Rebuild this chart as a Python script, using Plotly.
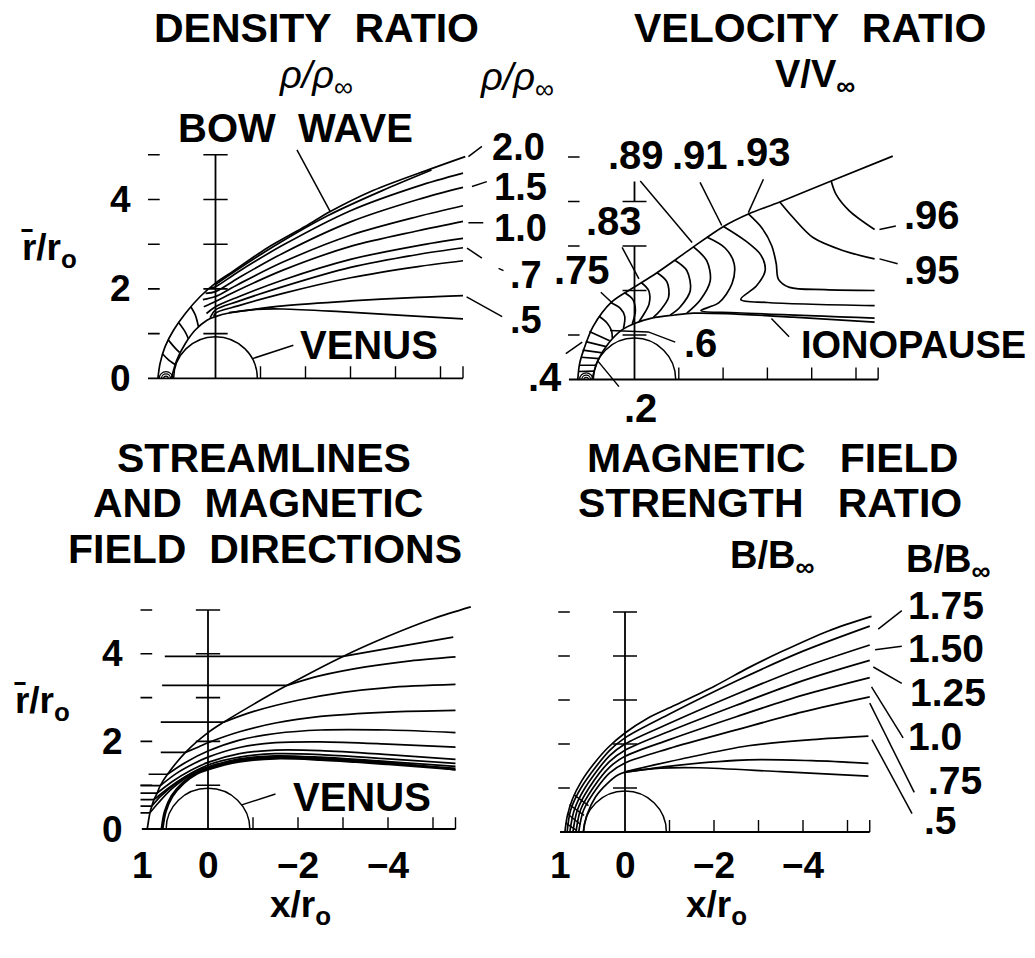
import plotly.graph_objects as go

W, H = 1035, 958
FONT = "Liberation Sans"

# ---------------- panel frames (pixel of x=0, pixel of y=0, px per unit) --------------
FRAMES = {
    1: dict(x0=215.5, y0=378.3, sx=45.0, sy=44.7),
    2: dict(x0=634.5, y0=379.5, sx=44.3, sy=44.5),
    3: dict(x0=208.0, y0=829.0, sx=45.0, sy=43.8),
    4: dict(x0=625.0, y0=832.0, sx=44.5, sy=44.0),
}
X_RANGE = [1.7, -7.6]
Y_RANGE = [-0.95, 5.6]

# ---------------- axis tick values ----------------
Y_TICKS = [1, 2, 3, 4, 5]
X_TICKS = [-1, -2, -3, -4, -5, -5.5]
Y_TICK_LABELS = [0, 2, 4]
X_TICK_LABELS = [0, -2, -4]
VENUS_RADIUS = 0.93

# ---------------- panel 1 : density ratio ----------------
P1_BOW = [(1.28, 0), (1.23, 0.34), (1.12, 0.71), (0.93, 1.08), (0.67, 1.45), (0.34, 1.83), (0, 2.13),
          (-0.4, 2.4), (-1.14, 2.91), (-2.0, 3.4), (-2.55, 3.73), (-3.5, 4.2), (-4.77, 4.68), (-5.55, 4.96)]
P1_IONOPAUSE = [(0.98, 0), (0.86, 0.41), (0.67, 0.78), (0.45, 1.08), (0.19, 1.30), (0, 1.38), (-0.3, 1.46),
                (-0.9, 1.54), (-1.5, 1.55), (-2.77, 1.49), (-4.25, 1.40), (-5.5, 1.33)]
P1_RHO_2_0 = [(0, 2.1), (-1.1, 2.83), (-2.5, 3.64), (-3.8, 4.24), (-4.8, 4.66)]
P1_RHO_A = [(0.12, 2.02), (0, 2.05), (-0.5, 2.38), (-1.5, 2.98), (-3, 3.75), (-4.5, 4.3), (-5.5, 4.59)]
P1_RHO_1_5 = [(0.22, 1.9), (0, 1.94), (-0.5, 2.24), (-1.5, 2.8), (-3, 3.5), (-4.5, 4.0), (-5.5, 4.27)]
P1_RHO_B = [(0.28, 1.76), (0, 1.83), (-0.5, 2.1), (-1.5, 2.6), (-3, 3.2), (-4.5, 3.62), (-5.5, 3.86)]
P1_RHO_1_0 = [(0.26, 1.6), (0, 1.72), (-0.5, 1.97), (-1.5, 2.42), (-3, 2.95), (-4.5, 3.3), (-5.5, 3.51)]
P1_RHO_C = [(0.2, 1.45), (0, 1.6), (-0.5, 1.82), (-1.5, 2.2), (-3, 2.66), (-4.5, 2.97), (-5.5, 3.13)]
P1_RHO_0_7 = [(0.12, 1.36), (0, 1.53), (-0.5, 1.72), (-1.5, 2.05), (-3, 2.48), (-4.5, 2.77), (-5.5, 2.92)]
P1_RHO_D = [(0.04, 1.38), (0, 1.46), (-0.5, 1.62), (-1.5, 1.9), (-3, 2.25), (-4.5, 2.5), (-5.5, 2.63)]
P1_RHO_0_5 = [(-0.3, 1.47), (-1.5, 1.62), (-3, 1.73), (-4.5, 1.81), (-5.5, 1.85)]
P1_NOSE_1 = [(0.55, 1.6), (0.45, 1.42), (0.38, 1.16)]
P1_NOSE_2 = [(0.82, 1.25), (0.68, 1.05), (0.6, 0.88)]
P1_NOSE_3 = [(1.05, 0.86), (0.9, 0.68), (0.8, 0.58)]
P1_NOSE_4 = [(1.18, 0.55), (1.05, 0.42), (0.9, 0.31)]
P1_LOOP_CENTER = 1.1
P1_LOOP_RADII = [0.05, 0.1, 0.15]
P1_LEAD_BOW = [(-1.81, 5.11), (-2.55, 3.73)]
P1_LEAD_VENUS = [(-0.82, 0.44), (-1.73, 0.74)]
P1_LEAD_20 = [(-5.62, 4.96), (-5.92, 5.19)]
P1_LEAD_15 = [(-5.7, 4.29), (-6.03, 4.40)]
P1_LEAD_10 = [(-5.62, 3.48), (-5.95, 3.48)]
P1_LEAD_07A = [(-5.59, 2.91), (-5.92, 2.69)]
P1_LEAD_07B = [(-6.29, 2.46), (-6.4, 2.41)]
P1_LEAD_05 = [(-5.58, 1.82), (-6.37, 1.38)]

# ---------------- panel 2 : velocity ratio ----------------
P2_BOW = [(1.28, 0), (1.24, 0.35), (1.15, 0.66), (0.93, 1.2), (0.52, 1.74), (0, 2.08), (-0.45, 2.36),
          (-0.91, 2.68), (-1.33, 2.98), (-2.01, 3.44), (-2.57, 3.72), (-3.28, 3.99), (-4.44, 4.46), (-5.83, 5.02)]
P2_IONOPAUSE = [(0.96, 0), (0.82, 0.44), (0.59, 0.81), (0.29, 1.11), (0, 1.26), (-0.39, 1.38), (-0.91, 1.45),
                (-1.33, 1.49), (-2.08, 1.48), (-3.58, 1.40), (-5.42, 1.29)]
P2_V96 = [(-4.44, 4.46), (-4.55, 4.16), (-4.85, 3.79), (-5.42, 3.37)]
P2_V95 = [(-3.28, 3.99), (-3.58, 3.64), (-4.03, 3.19), (-4.7, 2.9), (-5.42, 2.71)]
P2_V93 = [(-2.57, 3.72), (-2.88, 3.4), (-3.1, 3.0), (-3.2, 2.6), (-3.25, 2.25), (-3.5, 2.07), (-4.3, 2.02), (-5.42, 2.0)]
P2_V91 = [(-2.01, 3.44), (-2.5, 3.12), (-2.85, 2.8), (-2.95, 2.45), (-2.75, 2.1), (-2.4, 1.8), (-3.0, 1.73), (-5.42, 1.66)]
P2_V90 = [(-1.63, 3.2), (-2.05, 2.95), (-2.25, 2.6), (-2.2, 2.15), (-1.9, 1.72), (-1.5, 1.55), (-2.3, 1.5), (-5.42, 1.38)]
P2_V89 = [(-1.33, 2.98), (-1.63, 2.67), (-1.71, 2.22), (-1.48, 1.78), (-1.18, 1.49)]
P2_V87 = [(-0.91, 2.68), (-1.18, 2.45), (-1.26, 2.0), (-1.03, 1.63), (-0.81, 1.45)]
P2_V85 = [(-0.51, 2.4), (-0.73, 2.2), (-0.77, 1.85), (-0.58, 1.55), (-0.43, 1.4)]
P2_V83 = [(-0.15, 2.18), (-0.32, 2.0), (-0.33, 1.7), (-0.2, 1.45), (-0.1, 1.3)]
P2_V80 = [(0.22, 1.95), (0.04, 1.8), (-0.02, 1.55), (0.05, 1.25)]
P2_V75 = [(0.54, 1.73), (0.32, 1.6), (0.22, 1.42), (0.25, 1.14)]
P2_V70 = [(0.8, 1.42), (0.62, 1.27), (0.52, 1.1), (0.5, 0.93)]
P2_V65 = [(1.02, 1.08), (0.56, 0.87)]
P2_V60 = [(1.1, 0.85), (0.64, 0.74)]
P2_V55 = [(1.17, 0.66), (0.72, 0.6)]
P2_V50 = [(1.21, 0.5), (0.79, 0.47)]
P2_V40 = [(1.25, 0.32), (0.86, 0.32)]
P2_V30 = [(1.27, 0.18), (0.91, 0.19)]
P2_LOOP_CENTER = 1.09
P2_LOOP_RADII = [0.05, 0.1, 0.15]
P2_LEAD_89 = [(-0.13, 4.46), (-1.3, 3.08)]
P2_LEAD_91 = [(-1.48, 4.43), (-1.97, 3.46)]
P2_LEAD_93 = [(-2.91, 4.5), (-2.57, 3.75)]
P2_LEAD_83 = [(0.28, 2.97), (-0.1, 2.26)]
P2_LEAD_75 = [(0.76, 1.96), (0.5, 1.72)]
P2_LEAD_6 = [(-0.92, 0.84), (-0.31, 1.07), (0.55, 1.1)]
P2_LEAD_4 = [(1.55, 0.58), (1.18, 0.84)]
P2_LEAD_2 = [(0.84, 0.43), (0.35, -0.16)]
P2_LEAD_96 = [(-5.53, 3.37), (-5.9, 3.45)]
P2_LEAD_95 = [(-5.53, 2.71), (-5.94, 2.6)]
P2_LEAD_IONO = [(-3.09, 1.37), (-3.49, 0.96)]

# ---------------- panel 3 : streamlines ----------------
P3_BOW = [(1.35, 0), (1.32, 0.2), (1.29, 0.37), (1.25, 0.52), (1.2, 0.67), (1.13, 0.82), (1.06, 0.99), (0.9, 1.25),
          (0.5, 1.75), (0, 2.2), (-0.35, 2.44), (-1.0, 2.84), (-1.76, 3.28), (-3.0, 3.94), (-4.0, 4.4), (-5.0, 4.8), (-5.84, 5.07)]
P3_UP_Y = [3.94, 3.28, 2.44, 1.75, 1.25, 0.99, 0.82, 0.67, 0.52, 0.37]
P3_UP_X_START = [0.96, 1.02, 1.05, 1.05, 1.32, 1.5, 1.5, 1.5, 1.5, 1.5]
P3_UP_X_END = [-3.0, -1.76, -0.35, 0.5, 0.9, 1.06, 1.13, 1.2, 1.25, 1.29]
P3_DOWN_1 = [(-3.0, 3.94), (-4.2, 4.16), (-5.45, 4.38)]
P3_DOWN_2 = [(-1.76, 3.28), (-2.5, 3.5), (-3.5, 3.7), (-4.5, 3.84), (-5.5, 3.93)]
P3_DOWN_3 = [(-0.35, 2.44), (-1, 2.68), (-2, 2.94), (-3, 3.12), (-4, 3.23), (-5.5, 3.3)]
P3_DOWN_4 = [(0.5, 1.75), (0.2, 1.88), (0, 1.97), (-0.7, 2.22), (-1.5, 2.42), (-2.5, 2.57), (-4, 2.67), (-5.5, 2.71)]
P3_DOWN_5 = [(0.9, 1.25), (0.5, 1.52), (0, 1.78), (-0.7, 2.03), (-1.5, 2.18), (-2.5, 2.26), (-4, 2.26), (-5.5, 2.2)]
P3_DOWN_6 = [(1.06, 0.99), (0.7, 1.27), (0.3, 1.5), (0, 1.64), (-0.7, 1.86), (-1.5, 1.97), (-2.5, 1.99), (-4, 1.94), (-5.5, 1.87)]
P3_DOWN_7 = [(1.13, 0.82), (0.8, 1.08), (0.4, 1.33), (0, 1.52), (-0.7, 1.72), (-1.5, 1.8), (-2.5, 1.79), (-4, 1.7), (-5.5, 1.59)]
P3_DOWN_8 = [(1.2, 0.67), (0.9, 0.92), (0.5, 1.2), (0, 1.46), (-0.7, 1.64), (-1.5, 1.72), (-2.5, 1.7), (-4, 1.6), (-5.5, 1.5)]
P3_DOWN_9 = [(1.25, 0.52), (1.05, 0.75), (0.7, 1.05), (0.35, 1.28), (0, 1.42), (-0.7, 1.6), (-1.5, 1.67), (-2.5, 1.64), (-4, 1.54), (-5.5, 1.43)]
P3_DOWN_10 = [(1.29, 0.37), (1.1, 0.6), (0.8, 0.92), (0.4, 1.22), (0, 1.39), (-0.7, 1.58), (-1.5, 1.65), (-2.5, 1.62), (-4, 1.52), (-5.5, 1.35)]
P3_IONOPAUSE = [(1.02, 0), (0.95, 0.4), (0.8, 0.75), (0.55, 1.05), (0.25, 1.27), (0, 1.37), (-0.7, 1.55),
                (-1.5, 1.62), (-2.5, 1.59), (-4, 1.49), (-5.5, 1.37)]
P3_LEAD_VENUS = [(-0.75, 0.55), (-1.5, 0.8)]

# ---------------- panel 4 : magnetic field strength ----------------
P4_BOW = [(1.35, 0), (1.3, 0.35), (1.18, 0.75), (0.98, 1.15), (0.7, 1.55), (0.38, 1.92), (0, 2.25), (-0.5, 2.58),
          (-1.12, 2.88), (-2.02, 3.32), (-2.77, 3.73), (-3.52, 4.1), (-4.57, 4.57), (-5.54, 4.9)]
P4_IONOPAUSE = [(0.94, 0), (0.85, 0.4), (0.66, 0.8), (0.4, 1.1), (0.15, 1.3), (0, 1.36)]
P4_B175 = [(1.30, 0), (1.22, 0.5), (0.99, 1.0), (0.35, 1.85), (0, 2.14), (-1, 2.68), (-2.5, 3.43), (-4, 4.11), (-5.5, 4.68)]
P4_B150 = [(1.24, 0), (1.14, 0.5), (0.9, 1.0), (0.35, 1.73), (0, 2.0), (-1, 2.47), (-2.5, 3.13), (-4, 3.74), (-5.5, 4.25)]
P4_B125 = [(1.17, 0), (1.07, 0.5), (0.81, 1.0), (0.35, 1.6), (0, 1.86), (-1, 2.29), (-2.5, 2.88), (-4, 3.44), (-5.5, 3.9)]
P4_B100 = [(1.10, 0), (1.0, 0.5), (0.72, 1.0), (0.35, 1.47), (0, 1.72), (-1, 2.1), (-2.5, 2.62), (-4, 3.11), (-5.5, 3.51)]
P4_B075 = [(1.04, 0), (0.93, 0.5), (0.63, 1.0), (0.35, 1.34), (0, 1.57), (-1, 1.9), (-2.5, 2.32), (-4, 2.73), (-5.5, 3.07)]
P4_B050 = [(0, 1.37), (-1.27, 1.66), (-2.77, 1.96), (-4.2, 2.1), (-5.47, 2.18)]
P4_B_LOW1 = [(0, 1.36), (-1.12, 1.51), (-2.77, 1.64), (-4.2, 1.62), (-5.47, 1.56)]
P4_B_LOW2 = [(0, 1.36), (-0.8, 1.45), (-1.65, 1.46), (-3.5, 1.37), (-5.47, 1.27)]
P4_HATCH_1 = [(1.33, 0.2), (1.08, 0.03)]
P4_HATCH_2 = [(1.3, 0.42), (1.0, 0.17)]
P4_HATCH_3 = [(1.25, 0.62), (0.92, 0.38)]
P4_HATCH_4 = [(1.15, 0.85), (0.82, 0.6)]
P4_LEAD_175 = [(-5.69, 4.61), (-6.22, 5.03)]
P4_LEAD_150 = [(-5.62, 4.14), (-6.22, 4.22)]
P4_LEAD_125 = [(-5.58, 3.75), (-6.22, 3.38)]
P4_LEAD_100 = [(-5.54, 3.3), (-6.25, 2.14)]
P4_LEAD_075 = [(-5.5, 2.93), (-6.5, 0.9)]
P4_LEAD_050 = [(-5.55, 2.1), (-6.45, 0.42)]

LINE_W = 1.7


def ax_suffix(p):
    return "" if p == 1 else str(p)


def px(p, x):
    f = FRAMES[p]
    return f["x0"] - x * f["sx"]


def py(p, y):
    f = FRAMES[p]
    return f["y0"] - y * f["sy"]


fig = go.Figure()
layout_axes = {}
for p in FRAMES:
    left, right = px(p, X_RANGE[0]), px(p, X_RANGE[1])
    bottom, top = py(p, Y_RANGE[0]), py(p, Y_RANGE[1])
    s = ax_suffix(p)
    layout_axes["xaxis" + s] = dict(domain=[left / W, right / W], range=X_RANGE, visible=False,
                                    anchor="y" + s, fixedrange=True)
    layout_axes["yaxis" + s] = dict(domain=[1 - bottom / H, 1 - top / H], range=Y_RANGE, visible=False,
                                    anchor="x" + s, fixedrange=True)


def curve(p, pts, width=LINE_W, shape="spline"):
    s = ax_suffix(p)
    fig.add_trace(go.Scatter(x=[q[0] for q in pts], y=[q[1] for q in pts], mode="lines",
                             line=dict(color="black", width=width, shape=shape, smoothing=0.9),
                             xaxis="x" + s, yaxis="y" + s, hoverinfo="skip", showlegend=False))


def seg(p, pts, width=1.5):
    curve(p, pts, width=width, shape="linear")


def arc_path(cx, r):
    k = 0.5523 * r
    return (f"M {cx + r},0 C {cx + r},{k} {cx + k},{r} {cx},{r} "
            f"C {cx - k},{r} {cx - r},{k} {cx - r},0")


shapes = []


def half_circle(p, cx, r, width=1.5):
    s = ax_suffix(p)
    shapes.append(dict(type="path", path=arc_path(cx, r), xref="x" + s, yref="y" + s,
                       line=dict(color="black", width=width), layer="above"))


def draw_axes(p, x_left, vert_segments, cross_ys, dash_ys):
    seg(p, [(x_left, 0), (X_TICKS[-1], 0)], 1.8)
    for xt in X_TICKS:
        seg(p, [(xt, 0), (xt, 0.27)], 1.4)
    for (a, b) in vert_segments:
        seg(p, [(0, a), (0, b)], 1.8)
    for yt in cross_ys:
        seg(p, [(0.27, yt), (-0.27, yt)], 1.6)
    for yt in dash_ys:
        seg(p, [(1.5, yt), (1.24, yt)], 1.6)
    half_circle(p, 0, VENUS_RADIUS, 1.5)


annotations = []


def text(x_px, y_px, s, size=38, bold=True):
    annotations.append(dict(x=x_px / W, y=1 - y_px / H, xref="paper", yref="paper",
                            text=("<b>%s</b>" % s) if bold else s, showarrow=False,
                            font=dict(family=FONT, size=size, color="black"),
                            xanchor="center", yanchor="middle"))


# ---------------- panel 1 ----------------
draw_axes(1, 1.5, [(0, 5)], Y_TICKS, Y_TICKS)
for c in [P1_BOW, P1_IONOPAUSE, P1_RHO_2_0, P1_RHO_A, P1_RHO_1_5, P1_RHO_B, P1_RHO_1_0, P1_RHO_C,
          P1_RHO_0_7, P1_RHO_D, P1_RHO_0_5, P1_NOSE_1, P1_NOSE_2, P1_NOSE_3, P1_NOSE_4]:
    curve(1, c)
for r in P1_LOOP_RADII:
    half_circle(1, P1_LOOP_CENTER, r, 1.2)
for c in [P1_LEAD_BOW, P1_LEAD_VENUS, P1_LEAD_20, P1_LEAD_15, P1_LEAD_10, P1_LEAD_07A, P1_LEAD_07B, P1_LEAD_05]:
    seg(1, c)

# ---------------- panel 2 ----------------
draw_axes(2, 1.48, [(0, 3), (4, 4.45)], [1, 2, 3, 4], [1, 3, 4, 5])
for c in [P2_BOW, P2_IONOPAUSE, P2_V96, P2_V95, P2_V93, P2_V91, P2_V90, P2_V89, P2_V87, P2_V85,
          P2_V83, P2_V80, P2_V75, P2_V70, P2_V65, P2_V60, P2_V55, P2_V50, P2_V40, P2_V30]:
    curve(2, c)
for r in P2_LOOP_RADII:
    half_circle(2, P2_LOOP_CENTER, r, 1.2)
for c in [P2_LEAD_89, P2_LEAD_91, P2_LEAD_93, P2_LEAD_83, P2_LEAD_75, P2_LEAD_6, P2_LEAD_4, P2_LEAD_2,
          P2_LEAD_96, P2_LEAD_95, P2_LEAD_IONO]:
    seg(2, c)

# ---------------- panel 3 ----------------
draw_axes(3, 1.47, [(0, 5)], Y_TICKS, Y_TICKS)
curve(3, P3_BOW)
for yv, xs, xe in zip(P3_UP_Y, P3_UP_X_START, P3_UP_X_END):
    seg(3, [(xs, yv), (xe, yv)], LINE_W)
for c in [P3_DOWN_1, P3_DOWN_2, P3_DOWN_3, P3_DOWN_4, P3_DOWN_5, P3_DOWN_6, P3_DOWN_7, P3_DOWN_8,
          P3_DOWN_9, P3_DOWN_10]:
    curve(3, c)
curve(3, P3_IONOPAUSE, width=3.2)
seg(3, P3_LEAD_VENUS)

# ---------------- panel 4 ----------------
draw_axes(4, 1.46, [(0, 5)], Y_TICKS, Y_TICKS)
for c in [P4_BOW, P4_IONOPAUSE, P4_B175, P4_B150, P4_B125, P4_B100, P4_B075, P4_B050, P4_B_LOW1, P4_B_LOW2]:
    curve(4, c)
for c in [P4_HATCH_1, P4_HATCH_2, P4_HATCH_3, P4_HATCH_4, P4_LEAD_175, P4_LEAD_150, P4_LEAD_125,
          P4_LEAD_100, P4_LEAD_075, P4_LEAD_050]:
    seg(4, c)

# ---------------- texts ----------------
N2 = "\u00a0\u00a0"
N3 = "\u00a0\u00a0\u00a0"
TS = 41
text(316, 28, "DENSITY" + N2 + "RATIO", TS)
text(810, 28, "VELOCITY" + N2 + "RATIO", TS)
text(264, 458, "STREAMLINES", TS)
text(258, 503, "AND" + N2 + "MAGNETIC", TS)
text(265, 549, "FIELD" + N2 + "DIRECTIONS", TS)
text(772, 458, "MAGNETIC" + N3 + "FIELD", TS)
text(770, 503, "STRENGTH" + N3 + "RATIO", TS)

text(316, 78, "<i>ρ/ρ</i><sub>∞</sub>", size=38, bold=False)
text(517, 80, "<i>ρ/ρ</i><sub>∞</sub>", size=38, bold=False)
text(815, 77, "V/V<sub>∞</sub>", size=38)
text(772, 558, "B/B<sub>∞</sub>", size=38)
text(948, 562, "B/B<sub>∞</sub>", size=38)

# panel 1 labels
text(295, 128, "BOW" + N2 + "WAVE", 40)
text(369, 345, "VENUS", 40)
for lab, xp, yp in [("2.0", 518, 147), ("1.5", 520, 187), ("1.0", 520, 228), (".7", 526, 275), (".5", 526, 320)]:
    text(xp, yp, lab)

# panel 2 labels
for lab, xp, yp in [(".89", 636, 155), (".91", 700, 155), (".93", 763, 152), (".83", 614, 221),
                    (".75", 582, 270), (".96", 932, 215), (".95", 932, 270), (".6", 700, 343),
                    (".4", 545, 377), (".2", 640, 408)]:
    text(xp, yp, lab, 40)
text(913, 345, "IONOPAUSE", 38)

# panel 3 labels
text(362, 797, "VENUS", 40)

# panel 4 labels
for lab, xp, yp in [("1.75", 946, 605), ("1.50", 946, 648), ("1.25", 948, 692), ("1.0", 935, 736),
                    (".75", 955, 780), (".5", 940, 820)]:
    text(xp, yp, lab, 39)

# axis tick labels
Y_LABEL_X = 2.12
R_LABEL_X = 3.7
R_LABEL_Y = 2.88
for p in (1, 3):
    for v in Y_TICK_LABELS:
        text(px(p, Y_LABEL_X), py(p, v), str(v), size=37)
    text(px(p, R_LABEL_X), py(p, R_LABEL_Y), "r\u0304/r<sub>o</sub>", size=37)
X_LABEL_Y = 865
for p in (3, 4):
    text(px(p, 1.45), X_LABEL_Y, "1", size=37)
    for v in X_TICK_LABELS:
        text(px(p, v), X_LABEL_Y, str(v).replace("-", "\u2212"), size=37)
    text(px(p, -2.05), 907, "x/r<sub>o</sub>", size=37)

fig.update_layout(width=W, height=H, margin=dict(l=0, r=0, t=0, b=0),
                  paper_bgcolor="white", plot_bgcolor="rgba(0,0,0,0)",
                  showlegend=False, shapes=shapes, annotations=annotations, **layout_axes)

fig.write_html("out.html", config={"displayModeBar": False},
               post_script="document.body.style.margin='0px';document.body.style.padding='0px';")
